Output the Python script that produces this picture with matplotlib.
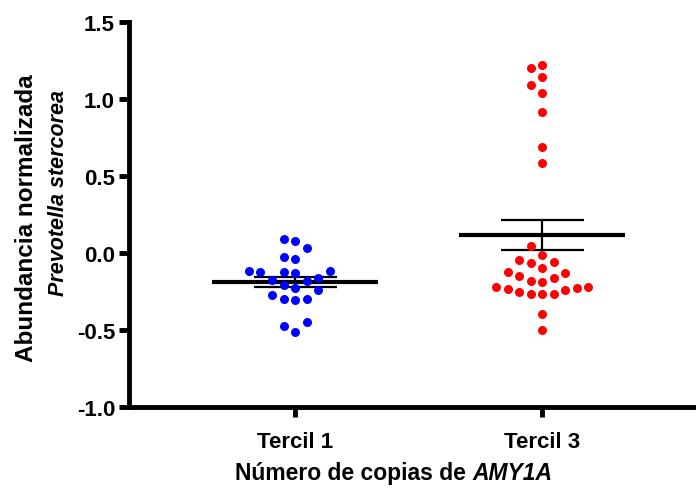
import numpy as np
import matplotlib.pyplot as plt
from matplotlib.offsetbox import TextArea, HPacker, AnchoredOffsetbox

plt.rcParams['font.family'] = ['Liberation Sans', 'DejaVu Sans']

groups = ["Tercil 1", "Tercil 3"]
tercil1 = [0.091, 0.076, 0.032, -0.039, -0.028, -0.119, -0.125, -0.130, -0.125,
           -0.119, -0.162, -0.180, -0.173, -0.227, -0.206, -0.240, -0.275,
           -0.299, -0.307, -0.299, -0.448, -0.474, -0.515]
tercil3 = [1.221, 1.203, 1.143, 1.089, 1.041, 0.913, 0.688, 0.584, 0.048,
           -0.011, -0.048, -0.058, -0.063, -0.097, -0.121, -0.130, -0.147,
           -0.162, -0.180, -0.186, -0.223, -0.229, -0.242, -0.264, -0.264,
           -0.264, -0.255, -0.234, -0.221, -0.394, -0.502]
colors = ["#0000ff", "#ff0000"]


def swarm(vals, step=0.0466, gap=0.075):
    # grid-based beeswarm: each point takes the nearest free column
    placed = []
    xs = np.zeros(len(vals))
    slots = [0]
    for k in range(1, 15):
        slots += [-k, k]
    for i in np.argsort(vals):
        v = vals[i]
        for k in slots:
            if all(not (pk == k and abs(pv - v) < gap) for pk, pv in placed):
                break
        placed.append((k, v))
        xs[i] = k * step
    return xs


fig = plt.figure(figsize=(6.96, 4.89), dpi=100)
ax = fig.add_axes([129 / 696, 81 / 489, 1 - 129 / 696, 385 / 489])

for i, vals in enumerate([tercil1, tercil3]):
    vals = np.array(vals)
    xs = swarm(vals)
    ax.scatter(i + xs, vals, s=42, color=colors[i], linewidths=0, zorder=3)
    m = vals.mean()
    se = vals.std(ddof=1) / np.sqrt(len(vals))
    ax.hlines(m, i - 0.336, i + 0.336, color="black", lw=3, zorder=2)
    ax.hlines([m - se, m + se], i - 0.168, i + 0.168, color="black", lw=1.6, zorder=2)
    ax.vlines(i, m - se, m + se, color="black", lw=1.6, zorder=2)

ax.set_xlim(-0.672, 1.623)
ax.set_ylim(-1.0, 1.5)
ax.set_yticks([-1.0, -0.5, 0.0, 0.5, 1.0, 1.5])
ax.set_yticklabels(["-1.0", "-0.5", "0.0", "0.5", "1.0", "1.5"])
ax.set_xticks([0, 1])
ax.set_xticklabels(groups)

for s in ["top", "right"]:
    ax.spines[s].set_visible(False)
for s in ["left", "bottom"]:
    ax.spines[s].set_linewidth(3.5)
ax.tick_params(axis="both", width=3.5, length=7, labelsize=16, pad=3)
for lab in ax.get_xticklabels() + ax.get_yticklabels():
    lab.set_fontweight("bold")
ax.tick_params(axis="x", pad=10)

fig.text(27 / 696, 1 - 218 / 489, "Abundancia normalizada", rotation=90,
         ha="center", va="center", fontsize=17.5, fontweight="bold")
fig.text(59 / 696, 1 - 193 / 489, "Prevotella stercorea", rotation=90,
         ha="center", va="center", fontsize=15.5, fontweight="bold", style="italic")

xlab = HPacker(children=[
    TextArea("Número de copias de ", textprops=dict(fontsize=16.5, fontweight="bold")),
    TextArea("AMY1A", textprops=dict(fontsize=16.5, fontweight="bold", style="italic")),
], align="baseline", pad=0, sep=0)
box = AnchoredOffsetbox(loc="center", child=xlab, frameon=False, pad=0,
                        bbox_to_anchor=(394 / 696, 1 - 474 / 489),
                        bbox_transform=fig.transFigure)
fig.add_artist(box)

fig.savefig("out.png", dpi=100)
